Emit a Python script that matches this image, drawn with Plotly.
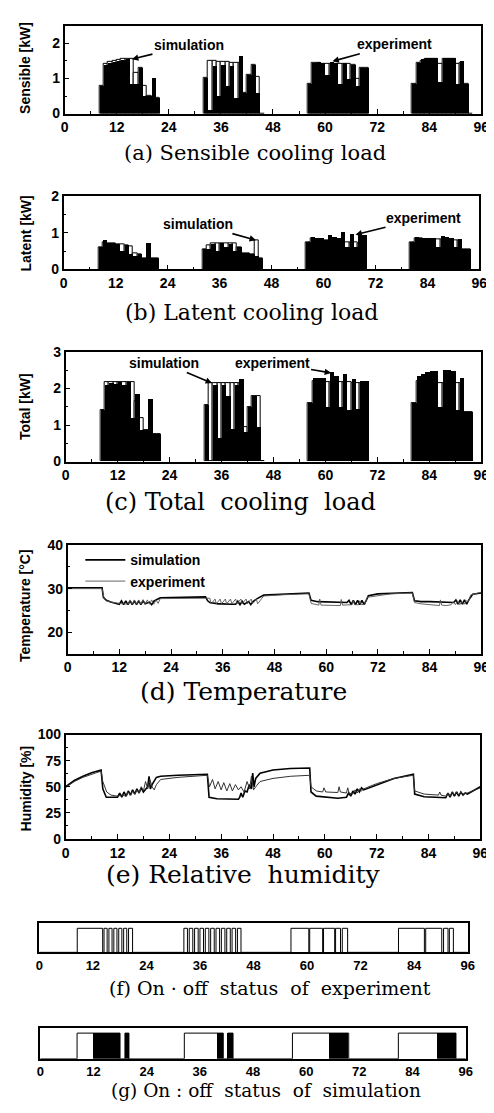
import plotly.graph_objects as go

# ------------------------------------------------------------------ data
x_ticks = [0, 12, 24, 36, 48, 60, 72, 84, 96]

# hourly bars (start hour of each bar)
load_hours = [8, 9, 10, 11, 12, 13, 14, 15, 16, 17, 18, 19, 20, 21,
              32, 33, 34, 35, 36, 37, 38, 39, 40, 41, 42, 43, 44, 45,
              56, 57, 58, 59, 60, 61, 62, 63, 64, 65, 66, 67, 68, 69,
              80, 81, 82, 83, 84, 85, 86, 87, 88, 89, 90, 91, 92, 93]

sens_exp = [0.8, 1.4, 1.45, 1.48, 1.5, 1.52, 1.55, 0.85, 0.85, 1.3, 0.5, 0.5, 1.02, 0.45,
            1.02, 0.1, 1.35, 0.5, 1.4, 0.8, 1.35, 0.45, 1.65, 0.6, 1.1, 1.4, 0.6, 0,
            0.85, 1.45, 1.48, 1.45, 1.1, 1.48, 1.45, 0.85, 1.45, 1.0, 1.4, 0.8, 1.3, 1.3,
            0.85, 1.45, 1.55, 1.6, 1.6, 1.58, 0.9, 1.6, 1.6, 1.6, 0.85, 1.5, 0.85, 0]
sens_sim = [0.8, 1.42, 1.48, 1.5, 1.52, 1.55, 1.55, 1.55, 1.15, 1.3, 0.8, 0.5, 0.45, 0.45,
            1.02, 1.5, 1.5, 1.48, 1.47, 1.46, 1.45, 1.45, 1.45, 0.6, 1.1, 1.4, 1.05, 0,
            0.85, 1.45, 1.45, 1.43, 1.42, 1.42, 1.42, 1.42, 1.42, 1.42, 1.4, 1.0, 1.3, 1.3,
            0.85, 1.45, 1.5, 1.55, 1.55, 1.55, 1.42, 1.55, 1.55, 1.55, 1.42, 1.45, 0.85, 0]

lat_exp = [0.6, 0.78, 0.72, 0.7, 0.68, 0.5, 0.66, 0.4, 0.35, 0.42, 0.3, 0.72, 0.3, 0.3,
           0.55, 0.55, 0.68, 0.5, 0.7, 0.6, 0.68, 0.5, 0.6, 0.45, 0.45, 0.42, 0.35, 0.3,
           0.73, 0.88, 0.86, 0.85, 0.8, 0.93, 0.88, 0.85, 1.02, 0.6, 0.95, 0.6, 0.92, 0.92,
           0.75, 0.88, 0.86, 0.85, 0.85, 0.85, 0.6, 0.9, 0.88, 0.86, 0.6, 0.82, 0.55, 0.55]
lat_sim = [0.6, 0.75, 0.72, 0.7, 0.68, 0.68, 0.66, 0.62, 0.45, 0.42, 0.3, 0.3, 0.3, 0.3,
           0.55, 0.65, 0.7, 0.7, 0.7, 0.7, 0.7, 0.7, 0.6, 0.45, 0.45, 0.42, 0.8, 0.3,
           0.73, 0.85, 0.82, 0.8, 0.78, 0.78, 0.77, 0.76, 0.75, 0.75, 0.75, 0.75, 0.72, 0.72,
           0.75, 0.84, 0.84, 0.83, 0.83, 0.83, 0.82, 0.82, 0.82, 0.82, 0.8, 0.8, 0.55, 0.55]

tot_exp = [1.4, 2.1, 2.15, 2.12, 2.18, 2.1, 2.18, 1.2, 1.85, 0.85, 0.85, 1.7, 0.75, 0.75,
           1.55, 0.0, 2.1, 0.65, 2.1, 1.8, 0.9, 2.1, 2.25, 0.8, 1.5, 1.8, 0.95, 0,
           1.6, 2.3, 2.28, 2.3, 1.5, 2.45, 2.35, 1.5, 2.4, 1.4, 2.25, 1.45, 2.2, 2.2,
           1.6, 2.35, 2.4, 2.45, 2.48, 2.48, 1.5, 2.5, 2.5, 2.48, 1.4, 2.3, 1.35, 1.35]
tot_sim = [1.4, 2.18, 2.18, 2.18, 2.18, 2.18, 2.18, 2.18, 1.65, 1.2, 0.85, 0.85, 0.75, 0.75,
           1.55, 2.15, 2.15, 2.15, 2.15, 2.15, 2.15, 2.15, 2.15, 0.95, 1.5, 1.8, 1.8, 0,
           1.6, 2.2, 2.2, 2.2, 2.18, 2.18, 2.18, 2.17, 2.17, 2.17, 2.16, 2.16, 2.15, 2.15,
           1.6, 2.2, 2.2, 2.18, 2.18, 2.17, 2.16, 2.16, 2.15, 2.15, 2.15, 2.15, 1.35, 1.35]

# temperature (time [h], value [degC])
temp_sim = [(0, 30.2), (8, 30.2), (8.3, 28.0), (9, 27.3), (10, 26.9), (11, 26.6), (12, 26.4),
            (12.5, 27.2), (13, 26.3), (13.5, 27.2), (14, 26.3), (14.5, 27.2), (15, 26.3),
            (15.5, 27.2), (16, 26.3), (16.5, 27.2), (17, 26.3), (17.5, 27.2), (18, 26.5),
            (19, 26.9), (19.5, 26.3), (20, 27.1), (21, 27.6), (21.5, 27.9), (32, 28.1),
            (32.5, 27.2), (33, 26.8), (34, 26.6), (35, 26.5), (36, 26.5), (37, 26.4), (38, 26.4),
            (39, 26.4), (39.5, 27.1), (40, 26.3), (40.5, 27.1), (41, 26.4), (42, 27.0), (42.5, 26.3),
            (43, 27.0), (44, 27.7), (45, 28.2), (45.5, 28.5), (56, 29.0), (56.5, 27.3), (58, 27.0),
            (60, 26.9), (62, 26.9), (64.8, 26.8), (65.3, 27.3), (65.8, 26.3), (66.3, 27.3),
            (66.8, 26.3), (67.3, 27.3), (67.8, 26.3), (68.3, 27.3), (68.8, 26.3), (69.3, 27.3),
            (69.8, 28.4), (72, 28.8), (80, 29.1), (80.5, 27.2), (82, 27.0), (84, 27.0), (86, 26.9),
            (88, 26.9), (89.6, 26.8), (90.1, 27.4), (90.6, 26.4), (91.1, 27.4), (91.6, 26.4),
            (92.1, 27.4), (92.6, 26.4), (93.1, 27.4), (93.6, 28.3), (94, 28.7), (96, 29.0)]
temp_exp = [(0, 30.0), (8, 30.0), (8.5, 27.6), (9, 27.2), (10, 26.9), (11, 26.7), (12, 26.6),
            (13, 26.5), (14, 26.4), (14.5, 27.4), (15, 26.4), (15.5, 27.4), (16, 26.4), (16.5, 27.4),
            (17, 26.4), (17.5, 27.4), (18, 26.4), (18.5, 27.4), (19, 26.4), (19.5, 27.4), (20, 26.4),
            (20.5, 27.4), (21, 26.6), (21.5, 27.7), (32, 27.9), (33, 27.8), (33.3, 26.5), (34.2, 27.6),
            (34.5, 26.5), (35.4, 27.6), (35.7, 26.5), (36.6, 27.6), (36.9, 26.5), (37.8, 27.6),
            (38.1, 26.5), (39, 27.6), (39.3, 26.5), (40.2, 27.6), (40.5, 26.5), (41.4, 27.6),
            (41.7, 26.5), (42.6, 27.6), (42.9, 26.5), (43.8, 27.6), (44.1, 26.5), (45, 27.6),
            (45.5, 28.3), (50, 28.6), (56, 28.8), (56.5, 26.6), (58.3, 26.2), (58.5, 27.6),
            (58.8, 26.2), (63.3, 26.1), (63.5, 27.5), (63.8, 26.2), (66, 26.3), (66.3, 27.2),
            (66.6, 26.3), (67.5, 26.3), (67.8, 27.2), (68.1, 26.3), (69, 26.4), (69.5, 28.0),
            (75, 28.8), (80, 29.0), (80.5, 26.8), (82, 26.5), (84, 26.3), (86.3, 26.1), (86.5, 27.4),
            (86.8, 26.2), (88, 26.1), (89, 26.3), (89.5, 27.0), (90, 26.3), (90.5, 27.2), (91, 26.3),
            (91.5, 27.0), (92, 26.4), (92.5, 27.2), (93, 27.0), (93.5, 28.5), (96, 29.2)]

# relative humidity (time [h], value [%])
hum_sim = [(0, 50), (2, 56), (4, 60), (6, 63.5), (8.2, 66), (8.6, 48), (9.4, 40), (12, 40),
           (12.5, 44), (13, 40), (13.5, 45), (14, 41), (14.5, 46), (15, 42), (15.5, 47), (16, 43),
           (16.5, 48), (17, 44), (17.5, 49), (18, 45), (19, 50), (19.3, 60), (19.6, 48), (20, 52),
           (21, 59), (22, 60), (26, 61), (32.8, 62), (33.2, 40), (35, 38.5), (40, 38), (40.3, 40),
           (40.6, 44), (41, 40), (41.5, 46), (42, 45), (42.5, 52), (43, 48), (43.3, 63), (43.6, 50),
           (44, 58), (45, 63), (48, 66), (52, 67.5), (56.5, 68), (56.8, 45), (58, 41), (60, 40),
           (63, 39), (65, 40), (65.5, 44), (66, 41), (66.5, 46), (67, 43), (67.5, 48), (68, 45),
           (68.5, 49), (69, 47), (72, 52), (76, 58), (80.5, 62), (80.8, 43), (83, 40.5), (86, 40),
           (88, 39.5), (88.5, 44), (89, 40), (89.5, 45), (90, 41), (90.5, 45), (91, 41), (91.5, 45),
           (92, 42), (92.5, 44), (93, 43), (96, 50)]
hum_exp = [(0, 49.5), (2, 55), (4, 59), (6, 62), (8.2, 65), (8.6, 55), (9.5, 45), (10.5, 42),
           (12, 41), (13, 42), (14, 41), (14.5, 45), (15, 42), (15.5, 46), (16, 43), (16.5, 47),
           (17, 44), (17.5, 50), (18, 46), (18.5, 55), (19, 48), (19.5, 57), (20, 50), (20.5, 47),
           (21, 52), (22, 57), (26, 59), (32.8, 61), (33.3, 50), (34, 57), (34.6, 48), (35.3, 55),
           (36, 47), (36.6, 54), (37.3, 46), (38, 53), (38.6, 46), (39.3, 52), (40, 47), (40.6, 50),
           (41.3, 45), (42, 55), (42.6, 48), (43, 60), (43.5, 47), (44, 50), (45, 55), (48, 58),
           (52, 60), (56.5, 61), (56.8, 50), (58, 46), (59.5, 45), (59.8, 49), (60.2, 45), (63, 44.5),
           (63.3, 50), (63.6, 45), (65, 44), (65.3, 49), (65.6, 44), (66.5, 43), (67, 47), (67.5, 44),
           (68, 48), (68.5, 46), (69, 48), (72, 53), (76, 58), (80.5, 61), (80.8, 46), (83, 43),
           (86.3, 42), (86.6, 45), (86.9, 42), (88, 41), (88.5, 44), (89, 41), (89.5, 45), (90, 42),
           (90.5, 45), (91, 42), (91.5, 45), (92, 43), (93, 44), (96, 49)]

# on / off status
exp_on_start = [8.5, 14.5, 15.6, 16.7, 17.8, 18.9, 20.0,
                32.4, 33.6, 34.8, 36.0, 37.2, 38.4, 39.6, 40.8, 42.0, 43.2, 44.4,
                56.4, 60.6, 63.7, 66.4, 67.9,
                80.5, 86.6, 90.6, 91.9]
exp_on_end = [14.2, 15.2, 16.3, 17.4, 18.5, 19.6, 20.9,
              33.2, 34.4, 35.6, 36.8, 38.0, 39.2, 40.4, 41.6, 42.8, 44.0, 45.2,
              60.4, 63.5, 66.2, 67.5, 69.1,
              86.3, 90.2, 91.6, 92.8]
sim_on_start = [8.3, 19.1, 32.5, 42.3, 56.9, 80.8]
sim_on_end = [18.0, 20.0, 41.3, 43.5, 69.6, 93.8]
sim_cycle_start = [12.0, 19.1, 39.9, 42.3, 65.2, 89.6]
sim_cycle_end = [18.0, 20.0, 41.3, 43.5, 69.6, 93.8]

# ------------------------------------------------------------------ layout helpers
W, H = 494, 1113
SANS = "Liberation Sans"
SERIF = "DejaVu Serif"


def xd(a, b):
    return [a / W, b / W]


def yd(top, bottom):
    return [1 - bottom / H, 1 - top / H]


panels = {  # name: (x0, x1, ytop, ybottom) in px
    1: (54, 481, 10, 99),
    2: (53, 479, 183, 257),
    3: (55, 481, 341, 452),
    4: (57, 481, 537, 647),
    5: (55, 480, 729, 835),
    6: (28, 467, 920, 950),
    7: (29, 465, 1027, 1058),
}

fig = go.Figure()


def bars(i, sim, exp):
    xs = [h + 0.5 for h in load_hours]
    fig.add_trace(go.Bar(x=xs, y=sim, width=1, marker=dict(color="white", line=dict(color="black", width=1)),
                         xaxis=f"x{i}", yaxis=f"y{i}", showlegend=False, name="simulation"))
    fig.add_trace(go.Bar(x=xs, y=exp, width=1, marker=dict(color="black", line=dict(color="black", width=0)),
                         xaxis=f"x{i}", yaxis=f"y{i}", showlegend=False, name="experiment"))


bars(1, sens_sim, sens_exp)
bars(2, lat_sim, lat_exp)
bars(3, tot_sim, tot_exp)

# temperature
fig.add_trace(go.Scatter(x=[p[0] for p in temp_sim], y=[p[1] for p in temp_sim], mode="lines",
                         line=dict(color="black", width=1.6), name="simulation", xaxis="x4", yaxis="y4"))
fig.add_trace(go.Scatter(x=[p[0] for p in temp_exp], y=[p[1] for p in temp_exp], mode="lines",
                         line=dict(color="#555555", width=0.9), name="experiment", xaxis="x4", yaxis="y4"))
# humidity
fig.add_trace(go.Scatter(x=[p[0] for p in hum_sim], y=[p[1] for p in hum_sim], mode="lines",
                         line=dict(color="black", width=1.6), showlegend=False, xaxis="x5", yaxis="y5"))
fig.add_trace(go.Scatter(x=[p[0] for p in hum_exp], y=[p[1] for p in hum_exp], mode="lines",
                         line=dict(color="#333333", width=1.0), showlegend=False, xaxis="x5", yaxis="y5"))


def step(starts, ends):
    xs, ys = [0], [0]
    for s, e in zip(starts, ends):
        xs += [s, s, e, e]
        ys += [0, 1, 1, 0]
    xs.append(96)
    ys.append(0)
    return xs, ys


sx, sy = step(exp_on_start, exp_on_end)
fig.add_trace(go.Scatter(x=sx, y=sy, mode="lines", line=dict(color="black", width=1),
                         showlegend=False, xaxis="x6", yaxis="y6"))
fig.add_trace(go.Bar(x=[(s + e) / 2 for s, e in zip(sim_cycle_start, sim_cycle_end)],
                     y=[1] * len(sim_cycle_start),
                     width=[e - s for s, e in zip(sim_cycle_start, sim_cycle_end)],
                     marker=dict(color="black", line=dict(width=0)), showlegend=False,
                     xaxis="x7", yaxis="y7"))
gx, gy = step(sim_on_start, sim_on_end)
fig.add_trace(go.Scatter(x=gx, y=gy, mode="lines", line=dict(color="black", width=1),
                         showlegend=False, xaxis="x7", yaxis="y7"))

lay = dict(width=W, height=H, margin=dict(l=0, r=0, t=0, b=0), autosize=False,
           paper_bgcolor="white", plot_bgcolor="white", barmode="overlay", bargap=0,
           showlegend=True,
           legend=dict(x=70 / W, y=1 - 536 / H, xanchor="left", yanchor="top",
                       bgcolor="rgba(0,0,0,0)", borderwidth=0,
                       font=dict(family=SANS, size=14, color="black", weight="bold"),
                       tracegroupgap=0, itemwidth=40))

yranges = {1: [0, 2.5], 2: [0, 2], 3: [0, 3], 4: [15, 40], 5: [0, 100], 6: [0, 1.23], 7: [0, 1.19]}
ytickv = {1: [0, 1, 2], 2: [0, 1, 2], 3: [0, 1, 2, 3], 4: [20, 30, 40], 5: [0, 25, 50, 75, 100]}
yminor = {1: 0.5, 2: 0.5, 3: 0.5, 4: 5, 5: 12.5}

for i, (x0, x1, yt, yb) in panels.items():
    small = i >= 6
    lay[f"xaxis{i}"] = dict(domain=xd(x0, x1), anchor=f"y{i}", range=[0, 96],
                            tickmode="array", tickvals=x_ticks,
                            ticks="" if small else "inside", ticklen=5, tickwidth=1.2, tickcolor="black",
                            minor=dict(dtick=6, tick0=0, ticks="" if small else "inside", ticklen=3,
                                       tickcolor="black", showgrid=False),
                            showline=True, mirror=True, linecolor="black", linewidth=1.5,
                            showgrid=False, zeroline=False, fixedrange=True,
                            tickfont=dict(family=SANS, size=13 if small else 14, color="black", weight="bold"))
    ya = dict(domain=yd(yt, yb), anchor=f"x{i}", range=yranges[i], showline=True, mirror=True,
              linecolor="black", linewidth=1.5, showgrid=False, zeroline=False, fixedrange=True)
    if small:
        ya.update(showticklabels=False, ticks="")
    else:
        ya.update(tickmode="array", tickvals=ytickv[i], ticks="inside", ticklen=5, tickwidth=1.2,
                  tickcolor="black",
                  minor=dict(dtick=yminor[i], tick0=0, ticks="inside", ticklen=3, tickcolor="black",
                             showgrid=False),
                  tickfont=dict(family=SANS, size=14, color="black", weight="bold"))
    lay[f"yaxis{i}"] = ya

ann = []
# y titles
for text, yc in [("Sensible [kW]", 53), ("Latent [kW]", 221), ("Total [kW]", 396),
                 ("Temperature [°C]", 598), ("Humidity [%]", 784)]:
    ann.append(dict(text=text, x=14 / W, y=1 - yc / H, xref="paper", yref="paper",
                    textangle=-90, showarrow=False, xanchor="center", yanchor="middle",
                    font=dict(family=SANS, size=14, color="black", weight="bold")))
# captions
for text, xc, yc, sz in [("(a) Sensible cooling load", 249, 139, 21),
                         ("(b) Latent cooling load", 245, 301, 22),
                         ("(c) Total  cooling  load", 234, 493, 24),
                         ("(d) Temperature", 237, 685, 25),
                         ("(e) Relative  humidity", 237, 871, 25),
                         ("(f) On · off  status  of  experiment", 264, 986, 19),
                         ("(g) On : off  status  of  simulation", 260, 1090, 18.5)]:
    ann.append(dict(text=text, x=xc / W, y=1 - yc / H, xref="paper", yref="paper",
                    showarrow=False, xanchor="center", yanchor="middle",
                    font=dict(family=SERIF, size=sz, color="black")))
# series labels with pointers
for i, text, hx, hy, ax, ay in [(1, "simulation", 15.5, 1.55, 57, -14),
                                (1, "experiment", 61.7, 1.49, 62, -17),
                                (2, "simulation", 44.4, 0.8, -58, -16),
                                (2, "experiment", 67.4, 0.95, 68, -17),
                                (3, "simulation", 33.8, 2.15, -48, -20),
                                (3, "experiment", 61.3, 2.43, -59, -10)]:
    ann.append(dict(text=text, x=hx, y=hy, xref=f"x{i}", yref=f"y{i}", ax=ax, ay=ay,
                    showarrow=True, arrowhead=2, arrowsize=0.8, arrowwidth=1.6, arrowcolor="black",
                    font=dict(family=SANS, size=14, color="black", weight="bold")))
lay["annotations"] = ann

fig.update_layout(**lay)
fig.write_html("out.html", config={"displayModeBar": False})
